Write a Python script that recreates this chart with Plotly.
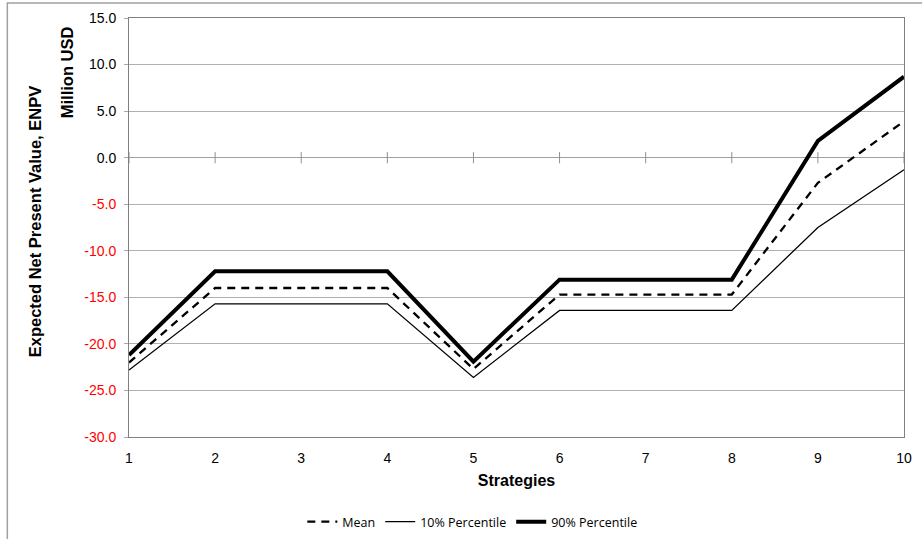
import plotly.graph_objects as go

strategies = [1, 2, 3, 4, 5, 6, 7, 8, 9, 10]
mean_vals = [-22.0, -14.0, -14.0, -14.0, -22.7, -14.7, -14.7, -14.7, -2.7, 3.9]
p10_vals = [-22.8, -15.7, -15.7, -15.7, -23.6, -16.4, -16.4, -16.4, -7.5, -1.3]
p90_vals = [-21.2, -12.2, -12.2, -12.2, -21.9, -13.1, -13.1, -13.1, 1.8, 8.7]
y_ticks = [15, 10, 5, 0, -5, -10, -15, -20, -25, -30]

def tick_text(v):
    s = f"{v:.1f}"
    return f'<span style="color:#ff0000">{s}</span>' if v < 0 else s

fig = go.Figure()
# category tick marks on the zero line
fig.add_trace(go.Scatter(
    x=strategies, y=[0] * len(strategies), mode="markers",
    marker=dict(symbol="line-ns", size=8, line=dict(color="#909090", width=1)),
    showlegend=False, hoverinfo="skip"))
fig.add_trace(go.Scatter(x=strategies, y=mean_vals, mode="lines", name="Mean",
                         line=dict(color="black", width=2.3, dash="8px,6px")))
fig.add_trace(go.Scatter(x=strategies, y=p10_vals, mode="lines", name="10% Percentile",
                         line=dict(color="black", width=1.3)))
fig.add_trace(go.Scatter(x=strategies, y=p90_vals, mode="lines", name="90% Percentile",
                         line=dict(color="black", width=4)))

fig.update_layout(
    width=922, height=539,
    margin=dict(l=129, r=18, t=18, b=102, autoexpand=False),
    plot_bgcolor="white", paper_bgcolor="white",
    font=dict(family="Liberation Sans, Arial", size=14, color="black"),
    legend=dict(orientation="h", x=0.443, xanchor="center", y=-0.203, yanchor="middle",
                font=dict(family="Open Sans, Liberation Sans", size=12.5, color="black"),
                tracegroupgap=0),
    xaxis=dict(range=[1, 10], tickvals=strategies, showgrid=False, zeroline=False,
               showline=True, linecolor="#808080", mirror=True, ticks="",
               tickfont=dict(size=14), ticklabelstandoff=8,
               title=dict(text="<b>Strategies</b>", font=dict(size=16), standoff=10)),
    yaxis=dict(range=[-30, 15], tickvals=y_ticks, ticktext=[tick_text(v) for v in y_ticks],
               showgrid=True, gridcolor="#b0b0b0", gridwidth=1,
               zeroline=True, zerolinecolor="#a0a0a0", zerolinewidth=1,
               showline=True, linecolor="#808080", mirror=True,
               ticks="outside", ticklen=4, tickcolor="#a8a8a8", tickfont=dict(size=14),
               ticklabelstandoff=5),
    annotations=[
        dict(text="<b>Expected Net Present Value, ENPV</b>", textangle=-90,
             xref="paper", yref="paper", x=-0.121, y=0.513, xanchor="center", yanchor="middle",
             showarrow=False, font=dict(size=16.5)),
        dict(text="<b>Million USD</b>", textangle=-90,
             xref="paper", yref="paper", x=-0.08, y=0.985, xanchor="center", yanchor="top",
             showarrow=False, font=dict(size=16.5)),
    ],
    shapes=[
        dict(type="rect", xref="paper", yref="paper", x0=-0.157, x1=1.2, y0=-0.5, y1=1.036,
             line=dict(color="#a0a0a0", width=1.5), fillcolor="rgba(0,0,0,0)", layer="below"),
    ],
)

fig.write_html("out.html", config={"displayModeBar": False},
               post_script="document.body.style.margin='0';document.body.style.overflow='hidden';")
